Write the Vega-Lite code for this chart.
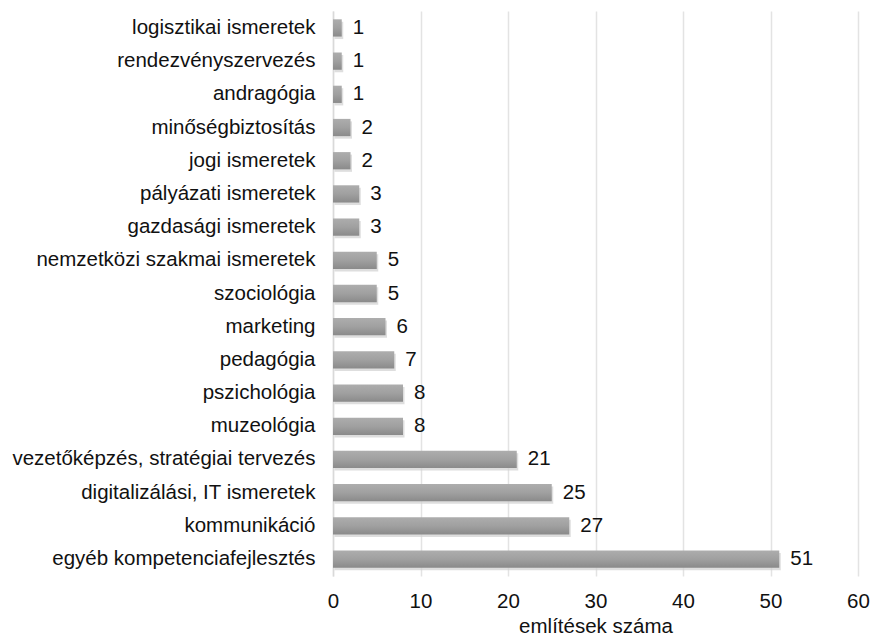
{
  "$schema": "https://vega.github.io/schema/vega-lite/v6.json",
  "autosize": {"type": "none"},
  "padding": {"left": 333, "top": 11, "right": 13, "bottom": 61},
  "width": 525,
  "height": 565,
  "background": "white",
  "config": {
    "font": "Liberation Sans",
    "view": {"stroke": null}
  },
  "data": {
    "values": [
      {"cat": "logisztikai ismeretek", "n": 1},
      {"cat": "rendezvényszervezés", "n": 1},
      {"cat": "andragógia", "n": 1},
      {"cat": "minőségbiztosítás", "n": 2},
      {"cat": "jogi ismeretek", "n": 2},
      {"cat": "pályázati ismeretek", "n": 3},
      {"cat": "gazdasági ismeretek", "n": 3},
      {"cat": "nemzetközi szakmai ismeretek", "n": 5},
      {"cat": "szociológia", "n": 5},
      {"cat": "marketing", "n": 6},
      {"cat": "pedagógia", "n": 7},
      {"cat": "pszichológia", "n": 8},
      {"cat": "muzeológia", "n": 8},
      {"cat": "vezetőképzés, stratégiai tervezés", "n": 21},
      {"cat": "digitalizálási, IT ismeretek", "n": 25},
      {"cat": "kommunikáció", "n": 27},
      {"cat": "egyéb kompetenciafejlesztés", "n": 51}
    ]
  },
  "encoding": {
    "y": {
      "field": "cat", "type": "nominal", "sort": null,
      "scale": {"paddingInner": 0.48, "paddingOuter": 0.25},
      "axis": {
        "title": null, "ticks": false, "domainColor": "#d9d9d9", "domainWidth": 1.5,
        "labelFontSize": 20.5, "labelColor": "#111111", "labelPadding": 18, "labelLimit": 400
      }
    },
    "x": {
      "field": "n", "type": "quantitative",
      "scale": {"domain": [0, 60], "nice": false},
      "axis": {
        "title": "említések száma", "titleFontSize": 20.5, "titleFontWeight": "normal", "titleColor": "#111111", "titlePadding": 5,
        "values": [0, 10, 20, 30, 40, 50, 60],
        "labelFontSize": 20.5, "labelColor": "#111111", "labelPadding": 15, "labelFlush": false,
        "ticks": false, "domain": false,
        "grid": true, "gridColor": "#e3e3e3", "gridWidth": 1.5
      }
    }
  },
  "layer": [
    {
      "mark": {"type": "bar", "xOffset": 1.5, "yOffset": 2.5, "color": "#d0d0d0", "opacity": 0.7}
    },
    {
      "mark": {
        "type": "bar",
        "color": {
          "gradient": "linear", "x1": 0, "y1": 0, "x2": 0, "y2": 1,
          "stops": [
            {"offset": 0, "color": "#adadad"},
            {"offset": 0.5, "color": "#a0a0a0"},
            {"offset": 1, "color": "#8a8a8a"}
          ]
        }
      }
    },
    {
      "mark": {"type": "text", "align": "left", "dx": 11, "fontSize": 20.5, "color": "#111111"},
      "encoding": {"text": {"field": "n"}}
    }
  ]
}
